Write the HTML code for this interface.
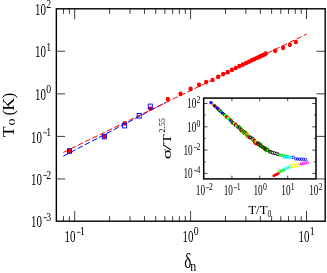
<!DOCTYPE html>
<html><head><meta charset="utf-8"><title>chart</title>
<style>html,body{margin:0;padding:0;background:#fff;}body{width:327px;height:273px;overflow:hidden;font-family:"Liberation Serif",serif;}</style>
</head><body>
<svg width="327" height="273" viewBox="0 0 327 273" style="display:block;will-change:transform" font-family="Liberation Serif, serif" fill="#000">
<rect x="0" y="0" width="327" height="273" fill="#fff"/>
<g fill="none" stroke-width="1" stroke-dasharray="5.7 2.4">
<path d="M63.3 156.1 L166 102.4" stroke="#0000ff"/>
<path d="M63.3 152.4 L306.7 34.1" stroke="#ff0000"/>
</g>
<g fill="#ff0000">
<ellipse cx="69.50" cy="151.00" rx="2.15" ry="2.35"/>
<ellipse cx="104.30" cy="136.40" rx="2.15" ry="2.35"/>
<ellipse cx="124.70" cy="123.40" rx="2.15" ry="2.35"/>
<ellipse cx="150.40" cy="108.60" rx="2.15" ry="2.35"/>
<ellipse cx="167.85" cy="99.10" rx="2.15" ry="2.35"/>
<ellipse cx="180.50" cy="93.90" rx="2.15" ry="2.35"/>
<ellipse cx="190.60" cy="88.90" rx="2.15" ry="2.35"/>
<ellipse cx="199.01" cy="84.90" rx="2.15" ry="2.35"/>
<ellipse cx="206.21" cy="82.10" rx="2.15" ry="2.35"/>
<ellipse cx="212.51" cy="80.00" rx="2.15" ry="2.35"/>
<ellipse cx="218.11" cy="76.90" rx="2.15" ry="2.35"/>
<ellipse cx="223.15" cy="74.10" rx="2.15" ry="2.35"/>
<ellipse cx="227.73" cy="72.20" rx="2.15" ry="2.35"/>
<ellipse cx="231.92" cy="69.90" rx="2.15" ry="2.35"/>
<ellipse cx="235.80" cy="68.00" rx="2.15" ry="2.35"/>
<ellipse cx="239.39" cy="66.20" rx="2.15" ry="2.35"/>
<ellipse cx="242.75" cy="64.63" rx="2.15" ry="2.35"/>
<ellipse cx="245.90" cy="63.15" rx="2.15" ry="2.35"/>
<ellipse cx="248.86" cy="61.75" rx="2.15" ry="2.35"/>
<ellipse cx="251.66" cy="60.44" rx="2.15" ry="2.35"/>
<ellipse cx="254.31" cy="59.19" rx="2.15" ry="2.35"/>
<ellipse cx="256.82" cy="58.01" rx="2.15" ry="2.35"/>
<ellipse cx="259.22" cy="56.89" rx="2.15" ry="2.35"/>
<ellipse cx="261.51" cy="55.81" rx="2.15" ry="2.35"/>
<ellipse cx="263.70" cy="54.78" rx="2.15" ry="2.35"/>
<ellipse cx="265.80" cy="53.70" rx="2.15" ry="2.35"/>
<ellipse cx="275.14" cy="50.80" rx="2.15" ry="2.35"/>
<ellipse cx="283.03" cy="47.80" rx="2.15" ry="2.35"/>
<ellipse cx="289.84" cy="44.80" rx="2.15" ry="2.35"/>
<ellipse cx="295.84" cy="42.00" rx="2.15" ry="2.35"/>
</g>
<g fill="none" stroke="#0000ff" stroke-width="0.9">
<rect x="67.45" y="148.70" width="4.1" height="4.6"/>
<rect x="102.25" y="134.30" width="4.1" height="4.6"/>
<rect x="122.55" y="123.30" width="4.1" height="4.6"/>
<rect x="137.15" y="113.50" width="4.1" height="4.6"/>
<rect x="148.25" y="104.10" width="4.1" height="4.6"/>
</g>
<g stroke="#000" stroke-width="1" fill="none">
<rect x="56.35" y="8.8" width="268.85" height="212.40" stroke-width="1.4"/>
<path d="M63.47 8.8v5.1M63.47 221.2v-5.1M69.40 8.8v5.1M69.40 221.2v-5.1M74.70 8.8v10.3M74.70 221.2v-10.3M109.59 8.8v5.1M109.59 221.2v-5.1M130.00 8.8v5.1M130.00 221.2v-5.1M144.48 8.8v5.1M144.48 221.2v-5.1M155.71 8.8v5.1M155.71 221.2v-5.1M164.89 8.8v5.1M164.89 221.2v-5.1M172.65 8.8v5.1M172.65 221.2v-5.1M179.37 8.8v5.1M179.37 221.2v-5.1M185.30 8.8v5.1M185.30 221.2v-5.1M190.60 8.8v10.3M190.60 221.2v-10.3M225.49 8.8v5.1M225.49 221.2v-5.1M245.90 8.8v5.1M245.90 221.2v-5.1M260.38 8.8v5.1M260.38 221.2v-5.1M271.61 8.8v5.1M271.61 221.2v-5.1M280.79 8.8v5.1M280.79 221.2v-5.1M288.55 8.8v5.1M288.55 221.2v-5.1M295.27 8.8v5.1M295.27 221.2v-5.1M301.20 8.8v5.1M301.20 221.2v-5.1M306.50 8.8v10.3M306.50 221.2v-10.3M56.35 51.25h8.8M325.2 51.25h-8.8M56.35 93.85h8.8M325.2 93.85h-8.8M56.35 136.40h8.8M325.2 136.40h-8.8M56.35 178.95h8.8M325.2 178.95h-8.8" stroke-width="0.75"/>
</g>
<text transform="translate(35.06,14.90) scale(0.65,1)" font-size="16.8">10</text><text transform="translate(46.28,8.43) scale(0.76,1)" font-size="12.94">2</text>
<text transform="translate(35.06,57.35) scale(0.65,1)" font-size="16.8">10</text><text transform="translate(46.28,50.88) scale(0.76,1)" font-size="12.94">1</text>
<text transform="translate(35.06,99.95) scale(0.65,1)" font-size="16.8">10</text><text transform="translate(46.28,93.48) scale(0.76,1)" font-size="12.94">0</text>
<text transform="translate(30.96,142.50) scale(0.65,1)" font-size="16.8">10</text><path d="M43.28 132.86h3.7" stroke="#000" stroke-width="0.75" fill="none"/><text transform="translate(46.28,136.03) scale(0.76,1)" font-size="12.94">1</text>
<text transform="translate(30.96,185.05) scale(0.65,1)" font-size="16.8">10</text><path d="M43.28 175.41h3.7" stroke="#000" stroke-width="0.75" fill="none"/><text transform="translate(46.28,178.58) scale(0.76,1)" font-size="12.94">2</text>
<text transform="translate(30.96,227.30) scale(0.65,1)" font-size="16.8">10</text><path d="M43.28 217.66h3.7" stroke="#000" stroke-width="0.75" fill="none"/><text transform="translate(46.28,220.83) scale(0.76,1)" font-size="12.94">3</text>
<text transform="translate(64.58,241.60) scale(0.65,1)" font-size="16.8">10</text><path d="M76.90 232.30h3.7" stroke="#000" stroke-width="0.75" fill="none"/><text transform="translate(79.90,235.47) scale(0.76,1)" font-size="12.94">1</text>
<text transform="translate(182.53,241.60) scale(0.65,1)" font-size="16.8">10</text><text transform="translate(193.75,235.47) scale(0.76,1)" font-size="12.94">0</text>
<text transform="translate(298.43,241.60) scale(0.65,1)" font-size="16.8">10</text><text transform="translate(309.65,235.47) scale(0.76,1)" font-size="12.94">1</text>
<text transform="translate(184.3,267.5) scale(0.72,1)" font-size="21">δ</text>
<text transform="translate(190.3,271.3) scale(0.8,1)" font-size="15">n</text>
<text transform="translate(13.9,137.0) rotate(-90) scale(1.05,0.98)" font-size="16.6">T</text>
<text transform="translate(15.0,125.6) rotate(-90) scale(1.3,0.8)" font-size="11">0</text>
<text transform="translate(14.1,115.6) rotate(-90) scale(1.0,0.98)" font-size="16.6">(</text>
<text transform="translate(14.1,110.8) rotate(-90) scale(1.09,0.98)" font-size="16.6">K</text>
<text transform="translate(14.1,98.3) rotate(-90) scale(1.0,0.98)" font-size="16.6">)</text>
<rect x="203.7" y="98.1" width="112.30" height="80.80" fill="#fff"/>
<g>
<circle cx="211" cy="102.6" r="1.7" fill="#0000ff"/>
<circle cx="212.8" cy="104.3" r="1.5" fill="#ff7070"/>
<circle cx="214.7" cy="105.9" r="1.7" fill="#000"/>
<circle cx="216" cy="106.9" r="1.5" fill="#ff0000"/>
<circle cx="217.5" cy="108.2" r="1.8" fill="#0000ff"/>
<circle cx="218.40" cy="109.24" r="1.55" fill="#0000ff"/>
<circle cx="219.00" cy="110.08" r="1.55" fill="#ff0000"/>
<circle cx="219.60" cy="110.52" r="1.55" fill="#00c000"/>
<circle cx="220.20" cy="110.64" r="1.55" fill="#ffff00"/>
<circle cx="220.80" cy="111.52" r="1.55" fill="#000000"/>
<circle cx="221.40" cy="111.76" r="1.55" fill="#00ffff"/>
<circle cx="222.00" cy="112.97" r="1.55" fill="#008000"/>
<circle cx="222.60" cy="112.96" r="1.56" fill="#0000ff"/>
<circle cx="223.20" cy="113.84" r="1.57" fill="#0000ff"/>
<circle cx="223.80" cy="114.79" r="1.58" fill="#ffff00"/>
<circle cx="224.40" cy="114.64" r="1.58" fill="#000000"/>
<circle cx="225.00" cy="114.99" r="1.59" fill="#00ff00"/>
<circle cx="225.60" cy="116.29" r="1.60" fill="#ffff00"/>
<circle cx="226.20" cy="116.65" r="1.61" fill="#00c000"/>
<circle cx="226.80" cy="117.09" r="1.62" fill="#0000ff"/>
<circle cx="227.40" cy="117.05" r="1.63" fill="#ff0000"/>
<circle cx="228.00" cy="118.33" r="1.63" fill="#00c000"/>
<circle cx="228.60" cy="118.40" r="1.64" fill="#ffff00"/>
<circle cx="229.20" cy="118.91" r="1.65" fill="#00ff00"/>
<circle cx="229.80" cy="120.08" r="1.66" fill="#00ffff"/>
<circle cx="230.40" cy="119.96" r="1.67" fill="#008000"/>
<circle cx="231.00" cy="120.55" r="1.68" fill="#ff0000"/>
<circle cx="231.60" cy="121.46" r="1.68" fill="#0000ff"/>
<circle cx="232.20" cy="121.85" r="1.69" fill="#ffff00"/>
<circle cx="232.80" cy="123.01" r="1.70" fill="#000000"/>
<circle cx="233.40" cy="123.61" r="1.71" fill="#00ff00"/>
<circle cx="234.00" cy="123.52" r="1.72" fill="#00c000"/>
<circle cx="234.60" cy="123.66" r="1.73" fill="#ffff00"/>
<circle cx="235.20" cy="124.98" r="1.73" fill="#0000ff"/>
<circle cx="235.80" cy="124.34" r="1.74" fill="#ff0000"/>
<circle cx="236.40" cy="125.89" r="1.75" fill="#00c000"/>
<circle cx="237.00" cy="126.49" r="1.76" fill="#ffff00"/>
<circle cx="238.20" cy="127.54" r="1.78" fill="#00ffff"/>
<circle cx="238.80" cy="126.80" r="1.79" fill="#008000"/>
<circle cx="239.40" cy="127.59" r="1.79" fill="#ff0000"/>
<circle cx="240.00" cy="127.89" r="1.80" fill="#00c000"/>
<circle cx="241.20" cy="130.58" r="1.82" fill="#ff0000"/>
<circle cx="242.40" cy="130.32" r="1.84" fill="#ffff00"/>
<circle cx="243.00" cy="131.40" r="1.84" fill="#00d000"/>
<circle cx="243.60" cy="132.83" r="1.85" fill="#00d000"/>
<circle cx="244.20" cy="132.06" r="1.86" fill="#ffff00"/>
<circle cx="244.80" cy="132.07" r="1.87" fill="#00d000"/>
<circle cx="245.40" cy="132.26" r="1.88" fill="#00d000"/>
<circle cx="246.00" cy="133.14" r="1.89" fill="#ffff00"/>
<circle cx="246.60" cy="134.45" r="1.89" fill="#ff0000"/>
<circle cx="247.20" cy="134.46" r="1.90" fill="#ffff00"/>
<circle cx="247.80" cy="136.43" r="1.90" fill="#00d000"/>
<circle cx="248.40" cy="136.46" r="1.90" fill="#ff0000"/>
<circle cx="249.00" cy="137.27" r="1.90" fill="#00ffff"/>
<circle cx="249.60" cy="137.35" r="1.90" fill="#ff0000"/>
<circle cx="251.40" cy="137.75" r="1.90" fill="#00ffff"/>
<circle cx="252.00" cy="138.84" r="1.90" fill="#ffff00"/>
<circle cx="252.60" cy="138.57" r="1.90" fill="#ff0000"/>
<circle cx="253.20" cy="140.08" r="1.90" fill="#00ffff"/>
<circle cx="253.80" cy="140.77" r="1.90" fill="#ffff00"/>
<circle cx="254.40" cy="140.73" r="1.90" fill="#ff0000"/>
<circle cx="255.00" cy="142.50" r="1.90" fill="#ff0000"/>
<circle cx="255.60" cy="141.82" r="1.90" fill="#ffff00"/>
<circle cx="256.20" cy="143.41" r="1.90" fill="#ff0000"/>
<circle cx="256.80" cy="142.31" r="1.90" fill="#ffff00"/>
<circle cx="257.40" cy="143.72" r="1.90" fill="#ff0000"/>
<circle cx="258.00" cy="144.04" r="1.90" fill="#ff0000"/>
<circle cx="258.60" cy="143.35" r="1.90" fill="#0000ff"/>
<circle cx="259.20" cy="144.13" r="1.90" fill="#00d000"/>
<circle cx="259.80" cy="145.83" r="1.90" fill="#00d000"/>
<circle cx="260.40" cy="144.84" r="1.90" fill="#ff0000"/>
<circle cx="261.00" cy="144.79" r="1.90" fill="#00d000"/>
<circle cx="261.60" cy="146.21" r="1.90" fill="#0000ff"/>
<circle cx="262.20" cy="146.26" r="1.90" fill="#ffff00"/>
<circle cx="262.80" cy="147.03" r="1.90" fill="#ff0000"/>
<circle cx="263.40" cy="147.71" r="1.90" fill="#00d000"/>
<circle cx="264.00" cy="148.47" r="1.90" fill="#ffff00"/>
<circle cx="264.60" cy="148.07" r="1.90" fill="#00e000"/>
<circle cx="265.20" cy="148.04" r="1.90" fill="#00e000"/>
<circle cx="265.80" cy="149.69" r="1.90" fill="#ff0000"/>
<circle cx="266.40" cy="150.25" r="1.90" fill="#00e000"/>
<circle cx="267.00" cy="149.26" r="1.90" fill="#00e000"/>
<circle cx="267.60" cy="149.94" r="1.90" fill="#00e000"/>
<circle cx="268.20" cy="150.86" r="1.50" fill="#ffff00"/>
<circle cx="268.80" cy="150.55" r="1.50" fill="#ffff00"/>
<circle cx="269.40" cy="151.14" r="1.50" fill="#00e000"/>
<circle cx="270.00" cy="152.13" r="1.50" fill="#00e000"/>
<circle cx="270.60" cy="151.48" r="1.50" fill="#ff0000"/>
<circle cx="271.20" cy="152.10" r="1.50" fill="#00e000"/>
<circle cx="271.80" cy="152.76" r="1.50" fill="#ffff00"/>
<path d="M220.20 108.84l1.4 1.8l-1.4 1.8l-1.4 -1.8z" fill="none" stroke="#000" stroke-width="0.55"/>
<path d="M232.20 120.05l1.4 1.8l-1.4 1.8l-1.4 -1.8z" fill="none" stroke="#000" stroke-width="0.55"/>
<path d="M237.60 125.14l1.4 1.8l-1.4 1.8l-1.4 -1.8z" fill="none" stroke="#000" stroke-width="0.55"/>
<path d="M240.60 127.90l1.4 1.8l-1.4 1.8l-1.4 -1.8z" fill="none" stroke="#000" stroke-width="0.55"/>
<path d="M241.80 127.80l1.4 1.8l-1.4 1.8l-1.4 -1.8z" fill="none" stroke="#000" stroke-width="0.55"/>
<path d="M244.20 130.26l1.4 1.8l-1.4 1.8l-1.4 -1.8z" fill="none" stroke="#000" stroke-width="0.55"/>
<path d="M246.00 131.34l1.4 1.8l-1.4 1.8l-1.4 -1.8z" fill="none" stroke="#000" stroke-width="0.55"/>
<path d="M250.20 135.41l1.4 1.8l-1.4 1.8l-1.4 -1.8z" fill="none" stroke="#000" stroke-width="0.55"/>
<path d="M250.80 136.11l1.4 1.8l-1.4 1.8l-1.4 -1.8z" fill="none" stroke="#000" stroke-width="0.55"/>
<path d="M253.80 138.97l1.4 1.8l-1.4 1.8l-1.4 -1.8z" fill="none" stroke="#000" stroke-width="0.55"/>
<path d="M264.00 146.67l1.4 1.8l-1.4 1.8l-1.4 -1.8z" fill="none" stroke="#000" stroke-width="0.55"/>
</g>
<g stroke="#000" stroke-width="0.55">
<path d="M257.00 141.08l1.35 1.8l-1.35 1.8l-1.35 -1.8z" fill="none" stroke-width="0.55"/>
<path d="M258.75 142.33l1.35 1.8l-1.35 1.8l-1.35 -1.8z" fill="none" stroke-width="0.55"/>
<path d="M260.50 143.58l1.35 1.8l-1.35 1.8l-1.35 -1.8z" fill="none" stroke-width="0.55"/>
<path d="M262.25 144.83l1.35 1.8l-1.35 1.8l-1.35 -1.8z" fill="none" stroke-width="0.55"/>
<path d="M264.00 146.07l1.35 1.8l-1.35 1.8l-1.35 -1.8z" fill="none" stroke-width="0.55"/>
<path d="M265.75 147.32l1.35 1.8l-1.35 1.8l-1.35 -1.8z" fill="none" stroke-width="0.55"/>
<path d="M267.50 148.45l1.35 1.8l-1.35 1.8l-1.35 -1.8z" fill="none" stroke-width="0.55"/>
<path d="M269.25 149.42l1.35 1.8l-1.35 1.8l-1.35 -1.8z" fill="none" stroke-width="0.55"/>
<path d="M271.00 150.40l1.35 1.8l-1.35 1.8l-1.35 -1.8z" fill="#fff" stroke-width="0.85"/>
<path d="M272.75 150.89l1.35 1.8l-1.35 1.8l-1.35 -1.8z" fill="#fff" stroke-width="0.85"/>
<path d="M274.50 151.37l1.35 1.8l-1.35 1.8l-1.35 -1.8z" fill="#fff" stroke-width="0.85"/>
<path d="M276.25 151.86l1.35 1.8l-1.35 1.8l-1.35 -1.8z" fill="#fff" stroke-width="0.85"/>
<path d="M278.00 152.34l1.35 1.8l-1.35 1.8l-1.35 -1.8z" fill="#fff" stroke-width="0.85"/>
</g>
<g fill="none" stroke-width="0.8">
<path d="M278.80 154.05h2.4l-1.2 2.7z" stroke="#00e000"/>
<path d="M280.65 154.45h2.4l-1.2 2.7z" stroke="#00e000"/>
<path d="M282.50 154.85h2.4l-1.2 2.7z" stroke="#00e000"/>
<path d="M284.35 155.25h2.4l-1.2 2.7z" stroke="#00e000"/>
<path d="M286.20 155.65h2.4l-1.2 2.7z" stroke="#00e000"/>
<path d="M282.80 156.05h2.4l-1.2 2.7z" stroke="#00f0ff"/>
<path d="M284.60 156.20h2.4l-1.2 2.7z" stroke="#00f0ff"/>
<path d="M286.40 156.35h2.4l-1.2 2.7z" stroke="#00f0ff"/>
<path d="M288.20 156.50h2.4l-1.2 2.7z" stroke="#00f0ff"/>
<path d="M290.00 156.65h2.4l-1.2 2.7z" stroke="#00f0ff"/>
<ellipse cx="293.3" cy="157.3" rx="1.15" ry="1.3" stroke="#0000ff"/>
<ellipse cx="295.80" cy="158.90" rx="1.15" ry="1.3" stroke="#0000ff"/>
<ellipse cx="297.74" cy="159.02" rx="1.15" ry="1.3" stroke="#0000ff"/>
<ellipse cx="299.68" cy="159.14" rx="1.15" ry="1.3" stroke="#0000ff"/>
<ellipse cx="301.62" cy="159.26" rx="1.15" ry="1.3" stroke="#0000ff"/>
<ellipse cx="303.56" cy="159.38" rx="1.15" ry="1.3" stroke="#0000ff"/>
<ellipse cx="305.50" cy="159.50" rx="1.15" ry="1.3" stroke="#0000ff"/>
<path d="M278.60 170.65h2.4l-1.2 2.7z" stroke="#00e000"/>
<path d="M280.70 169.80h2.4l-1.2 2.7z" stroke="#00e000"/>
<path d="M282.80 168.95h2.4l-1.2 2.7z" stroke="#00e000"/>
<path d="M284.60 167.85h2.4l-1.2 2.7z" stroke="#00f0ff"/>
<path d="M286.50 166.90h2.4l-1.2 2.7z" stroke="#00f0ff"/>
<path d="M288.40 165.95h2.4l-1.2 2.7z" stroke="#00f0ff"/>
<rect x="289.40" y="164.70" width="2.4" height="2.8" stroke="#ffff00" stroke-width="0.9"/>
<rect x="291.35" y="164.47" width="2.4" height="2.8" stroke="#ffff00" stroke-width="0.9"/>
<rect x="293.30" y="164.25" width="2.4" height="2.8" stroke="#ffff00" stroke-width="0.9"/>
<rect x="295.25" y="164.02" width="2.4" height="2.8" stroke="#ffff00" stroke-width="0.9"/>
<rect x="297.20" y="163.80" width="2.4" height="2.8" stroke="#ffff00" stroke-width="0.9"/>
<path d="M299.80 164.95h2.4l-1.2 -2.7z" stroke="#ff00ff"/>
<path d="M302.00 164.42h2.4l-1.2 -2.7z" stroke="#ff00ff"/>
<path d="M304.20 163.88h2.4l-1.2 -2.7z" stroke="#ff00ff"/>
<path d="M306.40 163.35h2.4l-1.2 -2.7z" stroke="#ff00ff"/>
</g>
<g fill="#ff0000">
<circle cx="273.80" cy="175.80" r="1.4"/>
<circle cx="274.90" cy="175.25" r="1.4"/>
<circle cx="276.00" cy="174.70" r="1.4"/>
<circle cx="277.10" cy="174.15" r="1.4"/>
<circle cx="278.20" cy="173.60" r="1.4"/>
</g>
<rect x="203.7" y="98.1" width="112.30" height="80.80" fill="none" stroke="#000" stroke-width="1.5"/>
<path d="M231.90 98.1v3.3M231.90 178.9v-3.3M259.80 98.1v3.3M259.80 178.9v-3.3M287.70 98.1v3.3M287.70 178.9v-3.3M203.7 173.40h3.8M316.0 173.40h-3.8M203.7 161.75h2.0M316.0 161.75h-2.0M203.7 150.10h3.8M316.0 150.10h-3.8M203.7 138.45h2.0M316.0 138.45h-2.0M203.7 126.80h3.8M316.0 126.80h-3.8M203.7 115.15h2.0M316.0 115.15h-2.0M203.7 103.50h3.8M316.0 103.50h-3.8" stroke="#000" stroke-width="0.7" fill="none"/>
<text transform="translate(187.08,108.30) scale(0.65,1)" font-size="14.2">10</text><text transform="translate(196.61,103.36) scale(0.76,1)" font-size="10.22">2</text>
<text transform="translate(187.08,131.60) scale(0.65,1)" font-size="14.2">10</text><text transform="translate(196.61,126.66) scale(0.76,1)" font-size="10.22">0</text>
<text transform="translate(183.48,154.90) scale(0.65,1)" font-size="14.2">10</text><path d="M193.91 147.45h2.9" stroke="#000" stroke-width="0.7" fill="none"/><text transform="translate(196.61,149.96) scale(0.76,1)" font-size="10.22">2</text>
<text transform="translate(183.48,178.20) scale(0.65,1)" font-size="14.2">10</text><path d="M193.91 170.75h2.9" stroke="#000" stroke-width="0.7" fill="none"/><text transform="translate(196.61,173.26) scale(0.76,1)" font-size="10.22">4</text>
<text transform="translate(195.79,195.10) scale(0.65,1)" font-size="14.2">10</text><path d="M206.22 187.65h2.9" stroke="#000" stroke-width="0.7" fill="none"/><text transform="translate(208.92,190.16) scale(0.76,1)" font-size="10.22">2</text>
<text transform="translate(223.69,195.10) scale(0.65,1)" font-size="14.2">10</text><path d="M234.12 187.65h2.9" stroke="#000" stroke-width="0.7" fill="none"/><text transform="translate(236.82,190.16) scale(0.76,1)" font-size="10.22">1</text>
<text transform="translate(253.39,195.10) scale(0.65,1)" font-size="14.2">10</text><text transform="translate(262.92,190.16) scale(0.76,1)" font-size="10.22">0</text>
<text transform="translate(281.29,195.10) scale(0.65,1)" font-size="14.2">10</text><text transform="translate(290.82,190.16) scale(0.76,1)" font-size="10.22">1</text>
<text transform="translate(309.19,195.10) scale(0.65,1)" font-size="14.2">10</text><text transform="translate(318.72,190.16) scale(0.76,1)" font-size="10.22">2</text>
<text transform="translate(248.4,214.2) scale(0.95,1)" font-size="13.3">T/T</text>
<text transform="translate(267.5,217.1) scale(0.68,1)" font-size="11.3">0</text>
<text transform="translate(171.2,159.3) rotate(-90) scale(1.2,0.72)" font-size="16">σ</text>
<text transform="translate(171.2,150.4) rotate(-90) scale(1.45,0.72)" font-size="16">/</text>
<text transform="translate(171.2,143.8) rotate(-90) scale(0.96,0.72)" font-size="16">T</text>
<text transform="translate(165.2,132.5) rotate(-90) scale(0.97,0.9)" font-size="8.5">2.55</text>
</svg>
</body></html>
